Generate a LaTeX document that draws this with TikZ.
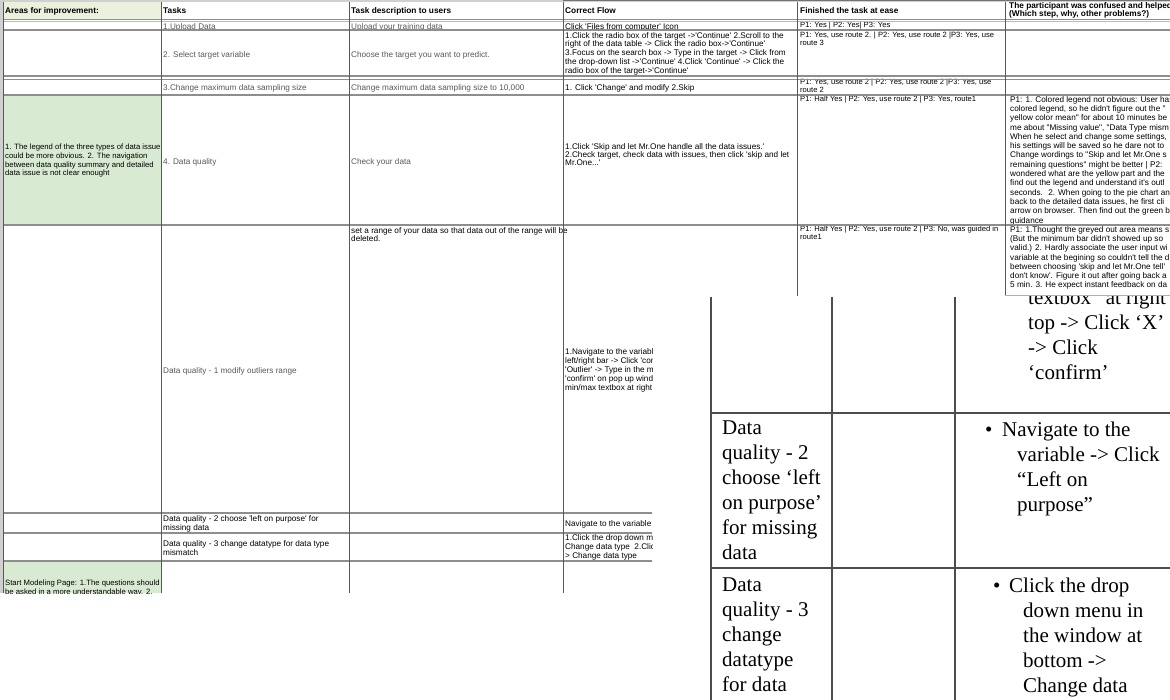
\documentclass[tikz,border=0pt]{standalone}
\usepackage{fontspec}
\newfontfamily\sheetfont[Ligatures=TeXOff]{Liberation Sans}
\newfontfamily\scanfont{Liberation Serif}
\definecolor{legendgreen}{HTML}{D9EAD3}
\definecolor{headgreen}{HTML}{EAF1DC}
\definecolor{gridgray}{HTML}{8E8E8E}
\definecolor{bargray}{HTML}{D0D0D0}

\tikzset{
	cell/.style={anchor=north west, inner sep=0pt, align=left, font=\sheetfont\fontsize{8.2}{9}\selectfont},
	dimcell/.style={cell, text=black!65},
	easecell/.style={cell, font=\sheetfont\fontsize{7.6}{7.8}\selectfont},
	areacell/.style={cell, font=\sheetfont\fontsize{7.7}{8.7}\selectfont},
	helpcell/.style={cell, font=\sheetfont\fontsize{8.2}{9.3}\selectfont},
	headcell/.style={cell, font=\sheetfont\bfseries\fontsize{8.3}{8}\selectfont},
	scantext/.style={anchor=north west, inner sep=0pt, align=left, font=\scanfont\fontsize{21}{25}\selectfont},
	scanword/.style={anchor=base west, inner sep=0pt, font=\scanfont\fontsize{21}{25}\selectfont},
	rowline/.style={gridgray, line width=1.5pt},
	colline/.style={black!65, line width=0.9pt},
	scanline/.style={black!70, line width=1.8pt},
}

\begin{document}
\begin{tikzpicture}[x=1pt, y=-1pt, line cap=butt]
	\useasboundingbox (0,0) rectangle (1170,700);
	\fill [white] (0,0) rectangle (1170,700);

	% Spreadsheet (cut off at the right below row 5)
	\begin{scope}
		\clip (0,0) -- (1170,0) -- (1170,296) -- (652,296) -- (652,593) -- (0,593) -- cycle;
		\fill [bargray] (0,0) rectangle (3,593);
		\fill [bargray] (0,0) rectangle (1170,2);
		\fill [black!55] (563,0) rectangle (1170,1.5);
		\fill [headgreen] (3,2) rectangle (161,19);
		\fill [legendgreen] (3,95) rectangle (161,225);
		\fill [legendgreen] (3,561) rectangle (161,593);

		% Header row
		\node [headcell] (hdArea) at (5,7) {Areas for improvement:};
		\node [headcell] (hdTask) at (163,7) {Tasks};
		\node [headcell] (hdDesc) at (351,7) {Task description to users};
		\node [headcell] (hdFlow) at (565,7) {Correct Flow};
		\node [headcell] (hdEase) at (800,7) {Finished the task at ease};
		\node [headcell] (hdHelp) at (1009,2.5) {The participant was confused and helped\\(Which step, why, other problems?)};

		% 1. Upload data (row is lower than its text)
		\begin{scope}
			\clip (0,21) rectangle (1170,29.5);
			\node [dimcell] (upTask) at (163,23) {1.Upload Data};
			\node [dimcell] (upDesc) at (351,23) {Upload your training data};
			\node [cell] (upFlow) at (565,23) {Click 'Files from computer' Icon};
			\node [easecell] (upEase) at (800,21.5) {P1: Yes | P2: Yes| P3: Yes};
		\end{scope}

		% 2. Select target variable
		\node [dimcell] (tgTask) at (163,51) {2. Select target variable};
		\node [dimcell] (tgDesc) at (351,51) {Choose the target you want to predict.};
		\node [cell, font=\sheetfont\fontsize{8.2}{8.8}\selectfont] (tgFlow) at (565,32) {1.Click the radio box of the target ->'Continue' 2.Scroll to the\\right of the data table -> Click the radio box->'Continue'\\3.Focus on the search box -> Type in the target -> Click from\\the drop-down list ->'Continue' 4.Click 'Continue' -> Click the\\radio box of the target->'Continue'};
		\node [easecell] (tgEase) at (800,32) {P1: Yes, use route 2. | P2: Yes, use route 2 |P3: Yes, use\\route 3};

		% 3. Sampling size
		\node [dimcell] (smTask) at (163,84) {3.Change maximum data sampling size};
		\node [dimcell] (smDesc) at (351,84) {Change maximum data sampling size to 10,000};
		\node [cell] (smFlow) at (565,84) {1. Click 'Change' and modify 2.Skip};
		\node [easecell] (smEase) at (800,79) {P1: Yes, use route 2 | P2: Yes, use route 2 |P3: Yes, use\\route 2};

		% 4. Data quality
		\node [areacell] (dqArea) at (5,144) {1. The legend of the three types of data issue\\could be more obvious. 2. The navigation\\between data quality summary and detailed\\data issue is not clear enought};
		\node [dimcell] (dqTask) at (163,158) {4. Data quality};
		\node [dimcell] (dqDesc) at (351,158) {Check your data};
		\node [cell, font=\sheetfont\fontsize{8.2}{8.4}\selectfont] (dqFlow) at (565,143) {1.Click 'Skip and let Mr.One handle all the data issues.'\\2.Check target, check data with issues, then click 'skip and let\\Mr.One...'};
		\node [easecell] (dqEase) at (800,96) {P1: Half Yes | P2: Yes, use route 2 | P3: Yes, route1};
		\node [helpcell] (dqHelp) at (1010,96) {P1: 1. Colored legend not obvious: User has\\colored legend, so he didn't figure out the "\\yellow color mean" for about 10 minutes be\\me about "Missing value", "Data Type mism\\When he select and change some settings,\\his settings will be saved so he dare not to\\Change wordings to "Skip and let Mr.One s\\remaining questions" might be better | P2:\\wondered what are the yellow part and the\\find out the legend and understand it's outl\\seconds. \ 2. When going to the pie chart an\\back to the detailed data issues, he first cli\\arrow on browser. Then find out the green b\\guidance};

		% Data quality - 1
		\node [dimcell] (olTask) at (163,367) {Data quality - 1 modify outliers range};
		\node [cell, font=\sheetfont\fontsize{8.2}{8}\selectfont] (olDesc) at (351,227) {set a range of your data so that data out of the range will be\\deleted.};
		\node [cell] (olFlow) at (565,348) {1.Navigate to the variable\\left/right bar -> Click 'con\\'Outlier' -> Type in the m\\'confirm' on pop up window\\min/max textbox at right};
		\node [easecell] (olEase) at (800,226) {P1: Half Yes | P2: Yes, use route 2 | P3: No, was guided in\\route1};
		\node [helpcell] (olHelp) at (1010,226) {P1: 1.Thought the greyed out area means s\\(But the minimum bar didn't showed up so\\valid.) 2. Hardly associate the user input wi\\variable at the begining so couldn't tell the d\\between choosing 'skip and let Mr.One tell'\\don't know'. Figure it out after going back a\\5 min. 3. He expect instant feedback on da};

		% Data quality - 2 and 3
		\node [cell] (lpTask) at (163,515) {Data quality - 2 choose 'left on purpose' for\\missing data};
		\node [cell] (lpFlow) at (565,520) {Navigate to the variable};
		\node [cell] (dtTask) at (163,540) {Data quality - 3 change datatype for data type\\mismatch};
		\node [cell] (dtFlow) at (565,534) {1.Click the drop down menu\\Change data type\ \ 2.Click\\> Change data type};

		% Start modeling page
		\node [areacell] (smArea) at (5,580) {Start Modeling Page: 1.The questions should\\be asked in a more understandable way. 2.};

		% grid
		\foreach \y in {19.5,30,76,79.5,95,225,513,533,561}
			\draw [rowline] (3,\y) -- (1170,\y);
		\draw [gridgray!60, line width=1pt] (3,22) -- (1170,22);
		\foreach \x in {3,161,349,563,797,1005}
			\draw [colline] (\x,2) -- (\x,593);
		\draw [gridgray!70, line width=0.8pt] (1005,295.5) -- (1170,295.5);
	\end{scope}

	% Pasted page of the report (Times, lower right)
	\begin{scope}
		\clip (700,297) rectangle (1170,700);
		\foreach \x in {711,832,955}
			\draw [scanline] (\x,297) -- (\x,700);
		\foreach \y in {413,568}
			\draw [scanline] (711,\y) -- (1170,\y);

		\node [scantext] (otFlow) at (1028,290) {textbox” at right\\top -> Click ‘X’\\-> Click\\‘confirm’};

		\node [scantext] (lpItem) at (722,421) {Data\\quality - 2\\choose ‘left\\on purpose’\\for missing\\data};
		\node [scanword] (lpDot) at (985,436) {•};
		\node [scanword] (lpStep) at (1002,436) {Navigate to the};
		\node [scantext] (lpRest) at (1017,447) {variable -> Click\\“Left on\\purpose”};

		\node [scantext] (dtItem) at (722,578) {Data\\quality - 3\\change\\datatype\\for data};
		\node [scanword] (dtDot) at (993,592) {•};
		\node [scanword] (dtStep) at (1009,592) {Click the drop};
		\node [scantext] (dtRest) at (1023,603) {down menu in\\the window at\\bottom ->\\Change data};
	\end{scope}
\end{tikzpicture}
\end{document}
